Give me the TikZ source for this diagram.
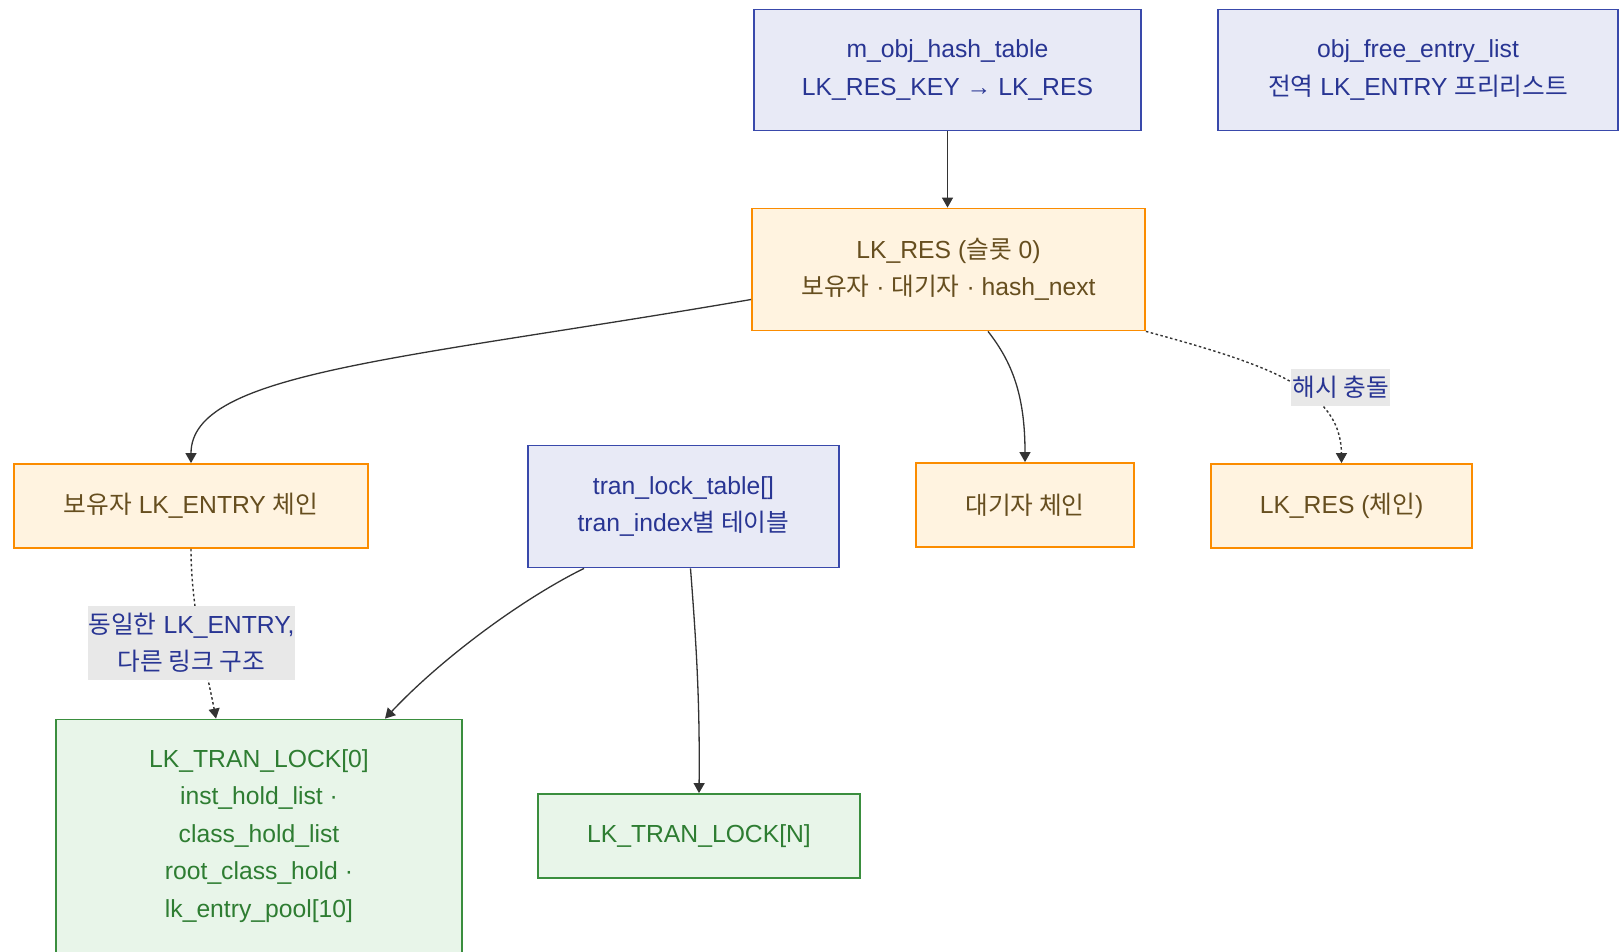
\documentclass[tikz,border=0pt]{standalone}
\usepackage{fontspec}
\setmainfont{Liberation Sans}
\newfontfamily\krfont[Scale=1.0]{Noto Sans CJK KR}
\newcommand{\kr}[1]{{\krfont #1}}
\newcommand{\boxfont}{\fontsize{24.7}{37.5}\selectfont}
\usetikzlibrary{arrows.meta, calc}
\usepackage{xcolor}
\definecolor{TblFill}{HTML}{E8EAF6}
\definecolor{TblLine}{HTML}{3949AB}
\definecolor{TblText}{HTML}{283593}
\definecolor{ResFill}{HTML}{FFF3E0}
\definecolor{ResLine}{HTML}{FB8C00}
\definecolor{ResText}{HTML}{664E1F}
\definecolor{LockFill}{HTML}{E8F5E9}
\definecolor{LockLine}{HTML}{3A8E3E}
\definecolor{LockText}{HTML}{2E7D32}
\definecolor{LabelFill}{HTML}{E8E8E8}
\definecolor{EdgeGray}{HTML}{333333}
\tikzset{
    % Box styles - all sharp corners
    tablebox/.style={
        rectangle,
        draw=TblLine,
        fill=TblFill,
        text=TblText,
        line width=1.8pt,
        inner sep=0pt,
        align=center,
        font=\boxfont
    },
    resbox/.style={
        rectangle,
        draw=ResLine,
        fill=ResFill,
        text=ResText,
        line width=1.8pt,
        inner sep=0pt,
        align=center,
        font=\boxfont
    },
    lockbox/.style={
        rectangle,
        draw=LockLine,
        fill=LockFill,
        text=LockText,
        line width=1.8pt,
        inner sep=0pt,
        align=center,
        font=\boxfont
    },
    edgelabel/.style={
        rectangle,
        fill=LabelFill,
        text=TblText,
        inner sep=0pt,
        align=center,
        font=\boxfont
    },
    % Arrow styles
    arrow/.style={
        -{Triangle[length=10pt, width=11pt]},
        line width=1.3pt,
        draw=EdgeGray
    },
    dottedarrow/.style={
        -{Triangle[length=10pt, width=11pt]},
        line width=1.4pt,
        draw=EdgeGray,
        dash pattern=on 2.5pt off 2.5pt
    }
}

\begin{document}
\begin{tikzpicture}[x=1pt, y=-1pt]
    \useasboundingbox (0,0) rectangle (1622,952);

    % Global tables
    \node[tablebox, minimum width=387pt, minimum height=121pt] (hash) at (947.5,70) {m\_obj\_hash\_table\\LK\_RES\_KEY → LK\_RES};
    \node[tablebox, minimum width=400pt, minimum height=121pt] (free) at (1418,70) {obj\_free\_entry\_list\\\kr{전역} LK\_ENTRY \kr{프리리스트}};

    % Resource and its chains
    \node[resbox, minimum width=393pt, minimum height=122pt] (res0) at (948.5,269.5) {LK\_RES (\kr{슬롯} 0)\\\kr{보유자} · \kr{대기자} · hash\_next};
    \node[resbox, minimum width=354pt, minimum height=84pt] (holder) at (191,506) {\kr{보유자} LK\_ENTRY \kr{체인}};
    \node[resbox, minimum width=218pt, minimum height=84pt] (waiter) at (1025,505) {\kr{대기자 체인}};
    \node[resbox, minimum width=261pt, minimum height=84pt] (reschain) at (1341.5,506) {LK\_RES (\kr{체인})};

    % Per-transaction tables
    \node[tablebox, minimum width=311pt, minimum height=122pt] (trantbl) at (683.5,506.5) {tran\_lock\_table[]\\tran\_index\kr{별 테이블}};
    \node[lockbox, minimum width=406pt, minimum height=233pt] (tl0) at (259,836) {LK\_TRAN\_LOCK[0]\\inst\_hold\_list ·\\class\_hold\_list\\root\_class\_hold ·\\lk\_entry\_pool[10]};
    \node[lockbox, minimum width=322pt, minimum height=84pt] (tln) at (699,836) {LK\_TRAN\_LOCK[N]};

    % Arrows
    \draw[arrow] (hash.south) -- (hash.south |- res0.north);
    \draw[arrow] ([yshift=-30pt]res0.west) .. controls (400,360) and (191,372) .. (holder.north);
    \draw[arrow] ([xshift=39.5pt]res0.south) .. controls (1012,362) and (1025,395) .. (waiter.north);
    \draw[dottedarrow] (res0.south east) .. controls (1270,365) and (1341,390) .. (reschain.north);
    \draw[dottedarrow] (holder.south) .. controls (191,610) and (207,672) .. ([xshift=-43pt]tl0.north);
    \draw[arrow] ([xshift=-99.5pt]trantbl.south) .. controls (520,600) and (440,660) .. ([xshift=126pt]tl0.north);
    \draw[arrow] ([xshift=7pt]trantbl.south) .. controls (696,640) and (700,700) .. (tln.north);

    % Edge labels
    \node[edgelabel, minimum width=99pt, minimum height=37pt] (collide) at (1340.5,387) {\kr{해시 충돌}};
    \node[edgelabel, minimum width=207pt, minimum height=74pt] (samelink) at (191.5,643) {\kr{동일한} LK\_ENTRY,\\\kr{다른 링크 구조}};
\end{tikzpicture}
\end{document}
